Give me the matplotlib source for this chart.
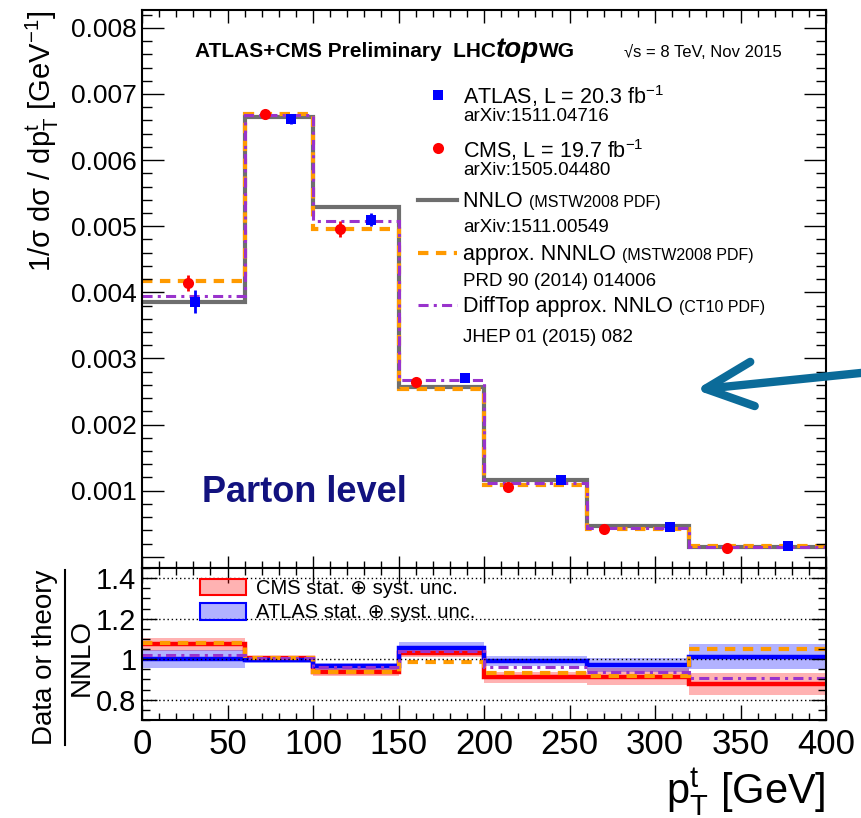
import numpy as np
import matplotlib
matplotlib.use("Agg")
import matplotlib.pyplot as plt
from matplotlib.patches import Patch, FancyArrowPatch
from matplotlib.lines import Line2D
from matplotlib.ticker import MultipleLocator, FuncFormatter

plt.rcParams['font.family'] = ['Liberation Sans', 'DejaVu Sans']
plt.rcParams['mathtext.fontset'] = 'custom'
plt.rcParams['mathtext.rm'] = 'Liberation Sans'
plt.rcParams['mathtext.it'] = 'Liberation Sans:italic'
plt.rcParams['mathtext.bf'] = 'Liberation Sans:bold'

# top-quark pT binning [GeV]
bin_edges = [0, 60, 100, 150, 200, 260, 320, 400]

# normalised differential cross sections [1/GeV]
nnlo = np.array([3.86, 6.65, 5.29, 2.57, 1.165, 0.46, 0.155]) * 1e-3
approx_nnnlo = np.array([4.17, 6.70, 4.96, 2.54, 1.083, 0.423, 0.163]) * 1e-3
difftop = np.array([3.94, 6.68, 5.08, 2.67, 1.12, 0.432, 0.141]) * 1e-3

cms_x = [27, 72, 116, 160, 214, 270, 342]
cms_y = np.array([4.14, 6.69, 4.96, 2.65, 1.06, 0.42, 0.136]) * 1e-3
cms_err = np.array([0.124, 0.066, 0.116, 0.046, 0.031, 0.019, 0.0085]) * 1e-3

atlas_x = [31, 87, 134, 189, 245, 309, 378]
atlas_y = np.array([3.86, 6.62, 5.10, 2.71, 1.156, 0.446, 0.157]) * 1e-3
atlas_err = np.array([0.174, 0.080, 0.095, 0.072, 0.029, 0.016, 0.0096]) * 1e-3

c_nnlo = '#6e6e6e'
c_nnnlo = '#ff9a00'
c_diff = '#9933cc'
c_cms = '#ff0000'
c_atlas = '#0000ff'

W, H = 861, 818
fig = plt.figure(figsize=(W / 100, H / 100), dpi=100)
ax1 = fig.add_axes([142 / W, 1 - 568 / H, 684 / W, 558 / H])
ax2 = fig.add_axes([142 / W, 1 - 720 / H, 684 / W, 152 / H])

# ---- upper panel: spectra
ax1.stairs(nnlo, bin_edges, baseline=None, color=c_nnlo, lw=3)
ax1.stairs(approx_nnnlo, bin_edges, baseline=None, color=c_nnnlo, lw=3, ls=(0, (2.5, 1.8)))
ax1.stairs(difftop, bin_edges, baseline=None, color=c_diff, lw=2.2, ls=(0, (3.3, 1.7, 1, 1.7)))
ax1.errorbar(cms_x, cms_y, yerr=cms_err, fmt='o', color=c_cms, ms=8, lw=2, capsize=0, mew=0)
ax1.errorbar(atlas_x, atlas_y, yerr=atlas_err, fmt='s', color=c_atlas, ms=7.5, lw=2, capsize=0, mew=0)

ax1.set_xlim(0, 400)
ax1.set_ylim(-0.00017, 0.00827)
ax1.xaxis.set_major_locator(MultipleLocator(50))
ax1.xaxis.set_minor_locator(MultipleLocator(10))
ax1.yaxis.set_major_locator(MultipleLocator(0.001))
ax1.yaxis.set_minor_locator(MultipleLocator(0.0002))
ax1.yaxis.set_major_formatter(FuncFormatter(lambda v, p: '' if abs(v) < 1e-9 else f'{v:.3f}'))
ax1.tick_params(which='both', direction='in', top=True, right=True, labelbottom=False, width=1)
ax1.tick_params(axis='y', which='major', length=16, labelsize=19, pad=4)
ax1.tick_params(axis='y', which='minor', length=7.5)
ax1.tick_params(axis='x', which='major', length=9)
ax1.tick_params(axis='x', which='minor', length=5)
ax1.set_ylabel(r'1/σ dσ / dp$_{\mathrm{T}}^{\mathrm{t}}$ [GeV$^{-1}$]', fontsize=21, loc='top')
ax1.yaxis.set_label_coords(-0.118, 1.0)

renderer = fig.canvas.get_renderer()


def text_after(ax, prev, s, gap=0.0, **kw):
    bb = prev.get_window_extent(renderer)
    x = ax.transAxes.inverted().transform((bb.x1, bb.y0))[0] + gap
    y = prev.get_position()[1]
    return ax.text(x, y, s, transform=ax.transAxes, va='baseline', **kw)


# header
t = ax1.text(0.0775, 0.915, 'ATLAS+CMS Preliminary  LHC', transform=ax1.transAxes,
             va='baseline', fontsize=15, fontweight='bold')
t = text_after(ax1, t, 'top', fontsize=20, fontweight='bold', style='italic')
text_after(ax1, t, 'WG', fontsize=15, fontweight='bold')
ax1.text(0.9357, 0.915, '√s = 8 TeV, Nov 2015', transform=ax1.transAxes, va='baseline',
         ha='right', fontsize=12)

# legend of the upper panel
lx_sym, lx_txt = 0.4327, 0.4693
ax1.add_line(Line2D([lx_sym], [0.8477], marker='s', color=c_atlas, ms=7.5, mew=0,
                    transform=ax1.transAxes))
ax1.add_line(Line2D([lx_sym], [0.7527], marker='o', color=c_cms, ms=8, mew=0,
                    transform=ax1.transAxes))
ax1.add_line(Line2D([0.4035, 0.4605], [0.6595] * 2, color=c_nnlo, lw=3,
                    transform=ax1.transAxes))
ax1.add_line(Line2D([0.4035, 0.4605], [0.5645] * 2, color=c_nnnlo, lw=3,
                    ls=(0, (2.5, 1.8)), transform=ax1.transAxes))
ax1.add_line(Line2D([0.4035, 0.4605], [0.4713] * 2, color=c_diff, lw=2.2,
                    ls=(0, (3.3, 1.7, 1, 1.7)), transform=ax1.transAxes))

main_rows = [(0.832, 'ATLAS, L = 20.3 fb$^{-1}$', None),
             (0.735, 'CMS, L = 19.7 fb$^{-1}$', None),
             (0.647, 'NNLO ', '(MSTW2008 PDF)'),
             (0.552, 'approx. NNNLO ', '(MSTW2008 PDF)'),
             (0.459, 'DiffTop approx. NNLO ', '(CT10 PDF)')]
for y, s, extra in main_rows:
    t = ax1.text(lx_txt, y, s, transform=ax1.transAxes, va='baseline', fontsize=15.5)
    if extra:
        text_after(ax1, t, extra, fontsize=11.5)

ref_rows = [(0.801, 'arXiv:1511.04716'), (0.704, 'arXiv:1505.04480'),
            (0.603, 'arXiv:1511.00549'), (0.506, 'PRD 90 (2014) 014006'),
            (0.405, 'JHEP 01 (2015) 082')]
for y, s in ref_rows:
    ax1.text(lx_txt, y, s, transform=ax1.transAxes, va='baseline', fontsize=13.5)

ax1.text(0.0877, 0.1183, 'Parton level', transform=ax1.transAxes, va='baseline',
         fontsize=26, fontweight='bold', color='#12127f')

# ---- lower panel: ratios to NNLO
ax2.stairs((cms_y + cms_err) / nnlo, bin_edges, baseline=(cms_y - cms_err) / nnlo,
           fill=True, color=c_cms, alpha=0.3, lw=0)
ax2.stairs((atlas_y + atlas_err) / nnlo, bin_edges, baseline=(atlas_y - atlas_err) / nnlo,
           fill=True, color=c_atlas, alpha=0.3, lw=0)
ax2.stairs(cms_y / nnlo, bin_edges, baseline=None, color=c_cms, lw=3.2)
ax2.stairs(atlas_y / nnlo, bin_edges, baseline=None, color=c_atlas, lw=3.2)
ax2.stairs(approx_nnnlo / nnlo, bin_edges, baseline=None, color=c_nnnlo, lw=3, ls=(0, (2.5, 1.8)))
ax2.stairs(difftop / nnlo, bin_edges, baseline=None, color=c_diff, lw=2.2, ls=(0, (3.3, 1.7, 1, 1.7)))

ax2.set_xlim(0, 400)
ax2.set_ylim(0.7, 1.45)
ax2.xaxis.set_major_locator(MultipleLocator(50))
ax2.xaxis.set_minor_locator(MultipleLocator(10))
ax2.yaxis.set_major_locator(MultipleLocator(0.2))
ax2.yaxis.set_minor_locator(MultipleLocator(0.05))
ax2.yaxis.set_major_formatter(FuncFormatter(lambda v, p: f'{v:g}'))
ax2.yaxis.grid(True, ls=(0, (1, 2)), color='k', lw=1)
ax2.tick_params(which='both', direction='in', top=True, right=True, width=1)
ax2.tick_params(axis='y', which='major', length=11, labelsize=21, pad=4)
ax2.tick_params(axis='y', which='minor', length=6)
ax2.tick_params(axis='x', which='major', length=11, labelsize=25, pad=6)
ax2.tick_params(axis='x', which='minor', length=5)
ax2.set_xlabel(r'p$_{\mathrm{T}}^{\mathrm{t}}$ [GeV]', fontsize=30, loc='right')
ax2.xaxis.set_label_coords(1.0, -0.31)

for ax in (ax1, ax2):
    for sp in ax.spines.values():
        sp.set_linewidth(1.5)

handles = [Patch(facecolor=(1, 0, 0, 0.3), edgecolor=c_cms, lw=1.5),
           Patch(facecolor=(0, 0, 1, 0.3), edgecolor=c_atlas, lw=1.5)]
ax2.legend(handles, ['CMS stat. ⊕ syst. unc.', 'ATLAS stat. ⊕ syst. unc.'],
           loc='upper left', bbox_to_anchor=(0.085, 0.93), frameon=False, fontsize=14.5,
           handlelength=2.3, handleheight=0.9, handletextpad=0.45, labelspacing=0.25,
           borderpad=0, borderaxespad=0)

# ratio axis title drawn as a fraction
fig.text(45 / W, 1 - 657 / H, 'Data or theory', rotation=90, ha='center', va='center', fontsize=20)
fig.add_artist(Line2D([65 / W, 65 / W], [1 - 570 / H, 1 - 745 / H], color='k', lw=1.5,
                      transform=fig.transFigure))
fig.text(82 / W, 1 - 657 / H, 'NNLO', rotation=90, ha='center', va='center', fontsize=20)

# pointer arrow
fig.add_artist(FancyArrowPatch((900 / W, 1 - 369 / H), (693 / W, 1 - 390 / H),
                               transform=fig.transFigure, color='#0b6b99', lw=6,
                               arrowstyle='->,head_length=1.7,head_width=0.8',
                               mutation_scale=20, capstyle='round', joinstyle='round'))

fig.savefig('out.png', dpi=100)
